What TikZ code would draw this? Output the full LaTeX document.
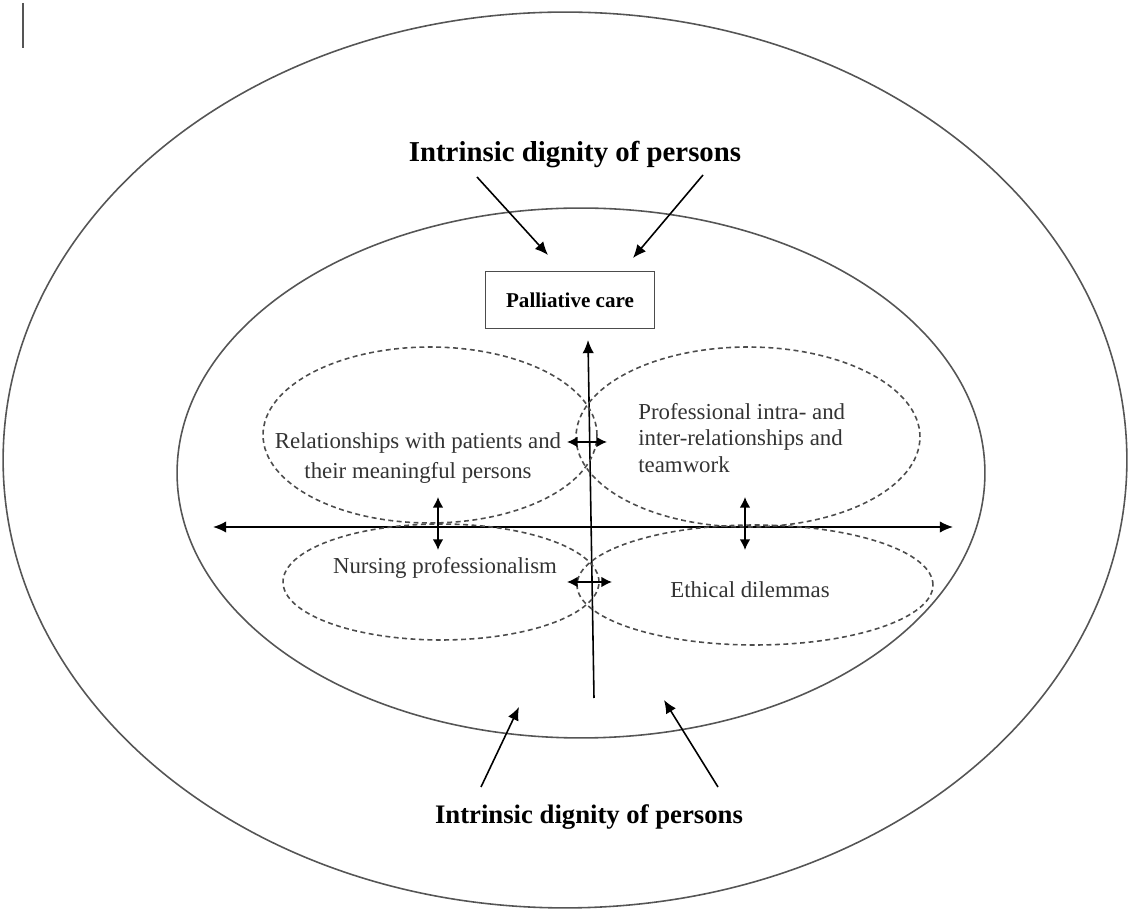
\documentclass[tikz,border=0pt]{standalone}
\usepackage{fontspec}
\setmainfont{Liberation Serif}
\usepackage{tikz}
\usetikzlibrary{positioning,arrows.meta,shapes.geometric}
\definecolor{ringgray}{RGB}{85,85,85}

\begin{document}
\begin{tikzpicture}[
    x=0.02cm, y=-0.02cm,
    >={Latex[length=7.5pt,width=6.5pt]},
    ring/.style={ellipse, draw=ringgray, line width=0.9pt, inner sep=0pt},
    theme/.style={ellipse, draw=black!70, line width=0.9pt, inner sep=0pt,
                  dash pattern=on 2.8pt off 2pt},
    lbl/.style={font=\fontsize{13}{15.3}\selectfont, text=black!80, inner sep=0pt},
    title/.style={font=\fontsize{16.4}{19}\selectfont\bfseries, inner sep=0pt},
    arr/.style={->, line width=0.9pt},
    dbl/.style={<->, line width=0.9pt, >={Latex[length=6pt,width=6pt]}},
]
\useasboundingbox (0,0) rectangle (1130,911);

% ---------- the two rings ----------
\node[ring, minimum width=22.48cm, minimum height=17.92cm] (outer) at (565,460) {};
\node[ring, minimum width=16.16cm, minimum height=10.6cm]  (inner) at (581,473) {};
\draw[ringgray, line width=0.6pt] (23,3) -- (23,48);

% ---------- dignity around palliative care ----------
\node[title] (dtop) at (575,155) {Intrinsic dignity of persons};
\node[title, font=\fontsize{15.2}{18}\selectfont\bfseries] (dbot) at (589,817) {Intrinsic dignity of persons};
\node[draw=black!70, line width=0.8pt, minimum width=3.38cm, minimum height=1.14cm,
      font=\fontsize{12}{14}\selectfont\bfseries] (care) at (570,300) {Palliative care};

\coordinate (t1) at (477,177); \coordinate (t1e) at (548,255);
\coordinate (t2) at (703,175); \coordinate (t2e) at (633,258);
\coordinate (b1) at (481,787); \coordinate (b1e) at (519,707);
\coordinate (b2) at (718,787); \coordinate (b2e) at (664,700);
\draw[arr] (t1) -- (t1e);
\draw[arr] (t2) -- (t2e);
\draw[arr] (b1) -- (b1e);
\draw[arr] (b2) -- (b2e);

% ---------- axes ----------
\coordinate (west)  at (213,527);
\coordinate (east)  at (953,527);
\coordinate (south) at (594,698);
\coordinate (north) at (588,340);
\draw[<->, line width=0.9pt] (west) -- (east);
\draw[->, line width=0.9pt] (south) -- (north);

% ---------- four themes ----------
\node[theme, minimum width=6.68cm, minimum height=3.52cm] (rel)  at (430,435) {};
\node[theme, minimum width=6.88cm, minimum height=3.6cm]  (prof) at (748,437) {};
\node[theme, minimum width=6.32cm, minimum height=2.32cm] (nurs) at (441,582) {};
\node[theme, minimum width=7.12cm, minimum height=2.4cm]  (eth)  at (755,585) {};

\node[lbl, align=center, font=\fontsize{13}{17}\selectfont] at (418,458)
  {Relationships with patients and\\their meaningful persons};
\node[lbl, align=left, anchor=west] at (638,438)
  {Professional intra- and\\inter-relationships and\\teamwork};
\node[lbl] at (445,568) {Nursing professionalism};
\node[lbl] at (750,590) {Ethical dilemmas};

% links between themes
\coordinate (h1a) at (567,442); \coordinate (h1b) at (607,442);
\coordinate (h2a) at (567,582); \coordinate (h2b) at (612,582);
\coordinate (v1a) at (438,497); \coordinate (v1b) at (438,550);
\coordinate (v2a) at (745,497); \coordinate (v2b) at (745,550);
\draw[dbl] (h1a) -- (h1b);
\draw[dbl] (h2a) -- (h2b);
\draw[dbl] (v1a) -- (v1b);
\draw[dbl] (v2a) -- (v2b);

\end{tikzpicture}
\end{document}
